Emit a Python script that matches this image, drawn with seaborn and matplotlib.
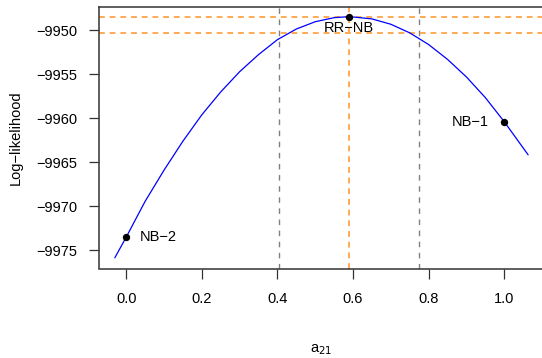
import matplotlib
matplotlib.use("Agg")
import matplotlib.pyplot as plt
import pandas as pd
import seaborn as sns

# profile log-likelihood curve
a21 = [-0.03, 0.0, 0.05, 0.10, 0.15, 0.20, 0.25, 0.30, 0.35, 0.40, 0.45, 0.50,
       0.55, 0.59, 0.65, 0.70, 0.75, 0.80, 0.85, 0.90, 0.95, 1.0, 1.063]
loglik = [-9975.86, -9973.52, -9969.45, -9965.9, -9962.6, -9959.6, -9957.0,
          -9954.7, -9952.75, -9951.05, -9949.84, -9949.01, -9948.55, -9948.43,
          -9948.69, -9949.3, -9950.28, -9951.61, -9953.3, -9955.3, -9957.65,
          -9960.39, -9964.15]

# fitted models
models = ["NB−2", "RR−NB", "NB−1"]
model_a21 = [0.0, 0.59, 1.0]
model_ll = [-9973.52, -9948.43, -9960.39]

# confidence interval bounds
ci_bounds = [0.403, 0.775]
ll_max = -9948.43
ll_cut = -9950.35

xticks = [0.0, 0.2, 0.4, 0.6, 0.8, 1.0]
yticks = [-9975, -9970, -9965, -9960, -9955, -9950]

sns.set_style("ticks")
plt.rcParams["font.family"] = ["Liberation Sans", "DejaVu Sans"]
plt.rcParams["text.color"] = "black"

fig = plt.figure(figsize=(5.42, 3.58), dpi=100)
W, H = 542, 358
ax = fig.add_axes([98.5 / W, (H - 268.5) / H, (W - 98.5) / W, (268.5 - 7.3) / H])

curve = pd.DataFrame({"a21": a21, "loglik": loglik})
pts = pd.DataFrame({"model": models, "a21": model_a21, "loglik": model_ll})

# reference lines
for xv in ci_bounds:
    ax.axvline(xv, color="#808080", lw=1.0, ls=(0, (4, 4)), zorder=1)
orange = "#FFAA55"
ax.axvline(model_a21[1], color=orange, lw=1.4, ls=(0, (3, 2.5)), zorder=1)
ax.axhline(ll_max, color=orange, lw=1.4, ls=(0, (3, 2.5)), zorder=1)
ax.axhline(ll_cut, color=orange, lw=1.4, ls=(0, (3, 2.5)), zorder=1)

sns.lineplot(data=curve, x="a21", y="loglik", color="blue", lw=0.9,
             sort=False, estimator=None, ax=ax, zorder=2)
sns.scatterplot(data=pts, x="a21", y="loglik", color="black", s=28,
                edgecolor="black", linewidth=0, ax=ax, zorder=3)

fs = 10.5
ax.text(model_a21[0] + 0.035, model_ll[0], models[0], fontsize=fs, va="center", ha="left")
ax.text(model_a21[1], model_ll[1] - 0.45, models[1], fontsize=fs, va="top", ha="center")
ax.text(model_a21[2] - 0.04, model_ll[2], models[2], fontsize=fs, va="center", ha="right")

ax.set_xlim(-0.0732, 1.0997)
ax.set_ylim(-9977.08, -9947.37)
ax.set_xticks(xticks)
ax.set_xticklabels([f"{v:.1f}" for v in xticks])
ax.set_yticks(yticks)
ax.set_yticklabels([f"−{abs(v)}" for v in yticks])
ax.set_xlabel("")
ax.set_ylabel("")
ax.tick_params(axis="both", which="major", direction="out", length=7.2, width=0.9,
               colors="#333333", labelcolor="black", labelsize=fs)
ax.tick_params(axis="x", pad=10)
ax.tick_params(axis="y", pad=8)

for side in ["left", "bottom", "top"]:
    ax.spines[side].set_visible(True)
    ax.spines[side].set_color("#333333")
    ax.spines[side].set_linewidth(1.1)
ax.spines["right"].set_visible(False)

fig.text(321 / W, 1 - 350 / H, "a$_{21}$", fontsize=fs, ha="center", va="center")
fig.text(15.5 / W, 1 - 137.5 / H, "Log−likelihood", fontsize=fs, ha="center",
         va="center", rotation=90)

fig.savefig("out.png", dpi=100)
